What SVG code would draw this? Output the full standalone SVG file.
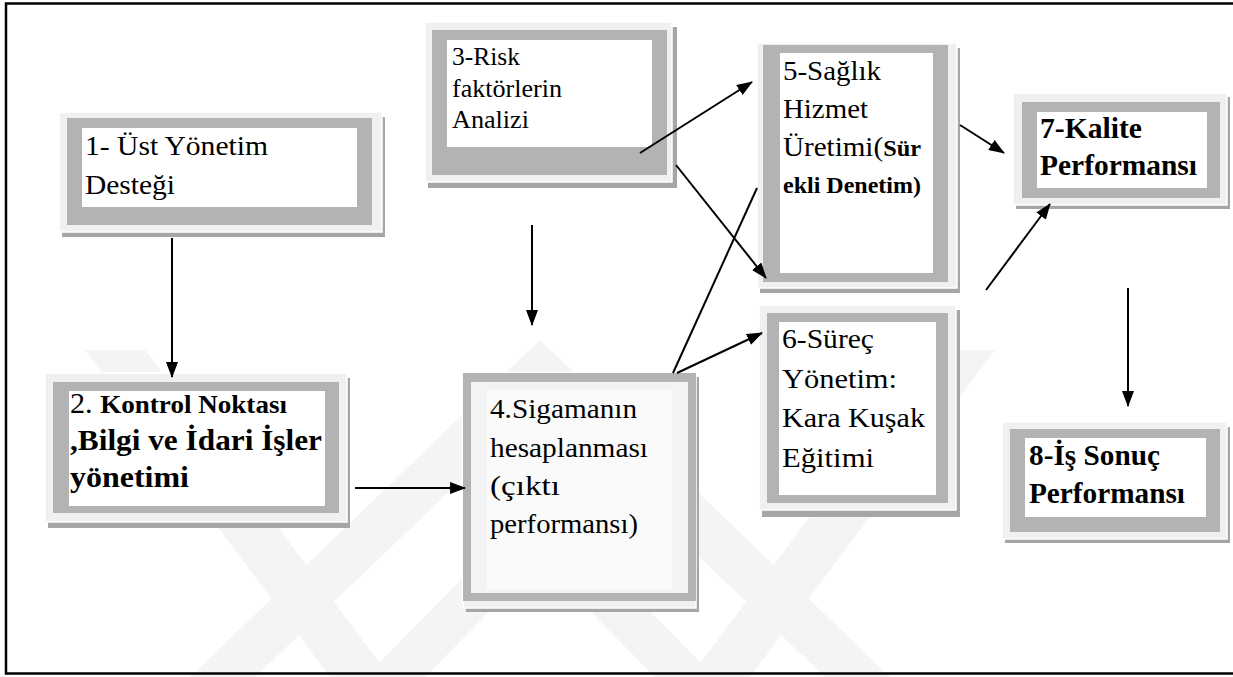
<svg xmlns="http://www.w3.org/2000/svg" width="1233" height="677" viewBox="0 0 1233 677">
  <style>
    .shadow { fill: #a6a6a6; }
    .frame { fill: #f0f0f0; stroke: #ffffff; stroke-width: 1.5; }
    .band { fill: #b3b3b3; }
    .inner { fill: #ffffff; }
    .mark { fill: #f4f4f4; }
    .t { font-family: "Liberation Serif", "Times New Roman", serif; fill: #000; }
    .b { font-weight: bold; }
    .line { stroke: #000; stroke-width: 2; fill: none; }
    .arrow { marker-end: url(#head); }
  </style>
  <defs>
    <marker id="head" markerUnits="userSpaceOnUse" markerWidth="16" markerHeight="12" refX="15" refY="6" orient="auto">
      <path d="M0,0 L16,6 L0,12 Z" fill="#000"/>
    </marker>
  </defs>

  <rect x="0" y="0" width="1233" height="677" fill="#ffffff"/>

  <!-- faint background emblem -->
  <g id="emblem">
    <polygon class="mark" points="85,350 145,350 390,677 330,677"/>
    <polygon class="mark" points="540,340 890,677 825,677 540,405 255,677 190,677"/>
    <polygon class="mark" points="540,500 715,677 655,677 540,560 425,677 365,677"/>
    <polygon class="mark" points="935,350 995,350 750,677 690,677"/>
  </g>

  <!-- outer border -->
  <rect x="6" y="3.5" width="1240" height="670" fill="none" stroke="#000" stroke-width="2.5"/>

  <!-- 1 -->
  <g id="node1">
    <rect class="shadow" x="62" y="117" width="323" height="120"/>
    <rect class="frame" x="59" y="112" width="323" height="120"/>
    <rect class="band" x="67" y="118" width="305" height="107"/>
    <rect class="inner" x="82" y="128" width="275" height="79"/>
    <text class="t" font-size="27.5" x="85" y="155" textLength="183" lengthAdjust="spacingAndGlyphs">1- Üst Yönetim</text>
    <text class="t" font-size="27.5" x="85" y="194" textLength="90" lengthAdjust="spacingAndGlyphs">Desteği</text>
  </g>

  <!-- 2 -->
  <g id="node2">
    <rect class="shadow" x="48" y="378" width="302" height="150"/>
    <rect class="frame" x="45" y="373" width="302" height="149"/>
    <rect class="band" x="53" y="382" width="286" height="131"/>
    <rect class="inner" x="69" y="391" width="256" height="115"/>
    <text class="t" x="70" y="413" textLength="217" lengthAdjust="spacingAndGlyphs"><tspan font-size="29">2. </tspan><tspan class="b" font-size="26">Kontrol Noktası</tspan></text>
    <text class="t b" font-size="29.5" x="70" y="450" textLength="252" lengthAdjust="spacingAndGlyphs">,Bilgi ve İdari İşler</text>
    <text class="t b" font-size="29.5" x="70" y="487" textLength="119" lengthAdjust="spacingAndGlyphs">yönetimi</text>
  </g>

  <!-- 3 -->
  <g id="node3">
    <rect class="shadow" x="428" y="27" width="249" height="161"/>
    <rect class="frame" x="425" y="22" width="247" height="160"/>
    <rect class="band" x="432" y="30" width="235" height="145"/>
    <rect class="inner" x="447" y="40" width="205" height="107"/>
    <text class="t" font-size="25" x="452" y="65" textLength="68" lengthAdjust="spacingAndGlyphs">3-Risk</text>
    <text class="t" font-size="25" x="452" y="97" textLength="110" lengthAdjust="spacingAndGlyphs">faktörlerin</text>
    <text class="t" font-size="25" x="452" y="128" textLength="77" lengthAdjust="spacingAndGlyphs">Analizi</text>
  </g>

  <!-- 4 -->
  <g id="node4">
    <rect class="shadow" x="466" y="377" width="233" height="235"/>
    <rect class="frame" x="463" y="373" width="233" height="235"/>
    <rect class="band" x="463" y="373" width="233" height="228"/>
    <rect x="471" y="382" width="217" height="211" fill="#f3f3f3"/>
    <rect x="487" y="390" width="185" height="200" fill="#fafafa"/>
    <text class="t" font-size="28" x="490" y="418" textLength="147" lengthAdjust="spacingAndGlyphs">4.Sigamanın</text>
    <text class="t" font-size="28" x="490" y="457" textLength="158" lengthAdjust="spacingAndGlyphs">hesaplanması</text>
    <text class="t" font-size="28" x="490" y="495" textLength="70" lengthAdjust="spacingAndGlyphs">(çıktı</text>
    <text class="t" font-size="28" x="490" y="533" textLength="148" lengthAdjust="spacingAndGlyphs">performansı)</text>
  </g>

  <!-- 5 -->
  <g id="node5">
    <rect class="shadow" x="760" y="48" width="200" height="245"/>
    <rect class="frame" x="757" y="43" width="200" height="245"/>
    <rect class="band" x="763" y="45" width="185" height="237"/>
    <rect class="inner" x="780" y="53" width="153" height="220"/>
    <text class="t" font-size="27.5" x="783" y="80" textLength="98" lengthAdjust="spacingAndGlyphs">5-Sağlık</text>
    <text class="t" font-size="27.5" x="783" y="118" textLength="85" lengthAdjust="spacingAndGlyphs">Hizmet</text>
    <text class="t" x="783" y="156" textLength="138" lengthAdjust="spacingAndGlyphs"><tspan font-size="27.5">Üretimi(</tspan><tspan class="b" font-size="23">Sür</tspan></text>
    <text class="t b" font-size="23" x="783" y="193" textLength="138" lengthAdjust="spacingAndGlyphs">ekli Denetim)</text>
  </g>

  <!-- 6 -->
  <g id="node6">
    <rect class="shadow" x="762" y="310" width="198" height="207"/>
    <rect class="frame" x="759" y="305" width="197" height="205"/>
    <rect class="band" x="767" y="313" width="181" height="190"/>
    <rect class="inner" x="779" y="322" width="157" height="173"/>
    <text class="t" font-size="28" x="782" y="348" textLength="92" lengthAdjust="spacingAndGlyphs">6-Süreç</text>
    <text class="t" font-size="28" x="782" y="388" textLength="115" lengthAdjust="spacingAndGlyphs">Yönetim:</text>
    <text class="t" font-size="28" x="782" y="427" textLength="143" lengthAdjust="spacingAndGlyphs">Kara Kuşak</text>
    <text class="t" font-size="28" x="782" y="467" textLength="92" lengthAdjust="spacingAndGlyphs">Eğitimi</text>
  </g>

  <!-- 7 -->
  <g id="node7">
    <rect class="shadow" x="1016" y="97" width="214" height="112"/>
    <rect class="frame" x="1013" y="93" width="214" height="112"/>
    <rect class="band" x="1022" y="102" width="198" height="96"/>
    <rect class="inner" x="1037" y="112" width="170" height="76"/>
    <text class="t b" font-size="30" x="1040" y="138" textLength="102" lengthAdjust="spacingAndGlyphs">7-Kalite</text>
    <text class="t b" font-size="30" x="1040" y="175" textLength="157" lengthAdjust="spacingAndGlyphs">Performansı</text>
  </g>

  <!-- 8 -->
  <g id="node8">
    <rect class="shadow" x="1005" y="427" width="225" height="116"/>
    <rect class="frame" x="1002" y="422" width="225" height="117"/>
    <rect class="band" x="1010" y="429" width="210" height="103"/>
    <rect class="inner" x="1025" y="438" width="181" height="79"/>
    <text class="t b" font-size="29.5" x="1029" y="465" textLength="131" lengthAdjust="spacingAndGlyphs">8-İş Sonuç</text>
    <text class="t b" font-size="29.5" x="1029" y="503" textLength="156" lengthAdjust="spacingAndGlyphs">Performansı</text>
  </g>

  <!-- connectors -->
  <g id="connectors">
    <line class="line arrow" x1="172" y1="238" x2="172" y2="377"/>
    <line class="line arrow" x1="532" y1="225" x2="532" y2="325"/>
    <line class="line arrow" x1="355" y1="488" x2="465" y2="488"/>
    <line class="line arrow" x1="640" y1="153" x2="752" y2="82"/>
    <line class="line arrow" x1="676" y1="165" x2="766" y2="278"/>
    <line class="line" x1="673" y1="373" x2="757" y2="188"/>
    <line class="line arrow" x1="677" y1="373" x2="762" y2="333"/>
    <line class="line arrow" x1="960" y1="125" x2="1004" y2="153"/>
    <line class="line arrow" x1="986" y1="290" x2="1050" y2="204"/>
    <line class="line arrow" x1="1128" y1="288" x2="1128" y2="406"/>
  </g>
</svg>
